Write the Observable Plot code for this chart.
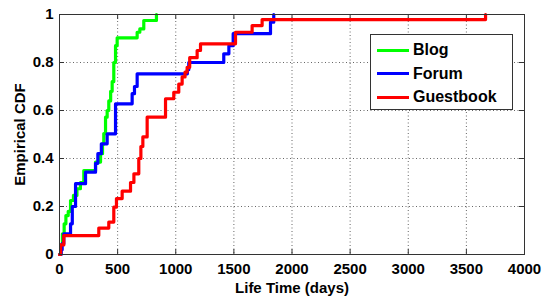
<!DOCTYPE html>
<html>
<head>
<meta charset="utf-8">
<script src="https://cdn.jsdelivr.net/npm/d3@7"></script>
<script src="https://cdn.jsdelivr.net/npm/@observablehq/plot@0.6"></script>
<style>
  html, body { margin: 0; padding: 0; background: #fff; }
  #wrap { position: relative; width: 552px; height: 296px; }
  #legend { position: absolute; left: 370px; top: 34px; width: 143px; height: 76px;
    border: 1px solid #333; background: #fff; box-sizing: border-box;
    font-family: "Liberation Sans", Arial, sans-serif; font-weight: bold; font-size: 16px; }
  .row { position: absolute; left: 6px; height: 20px; display: flex; align-items: center; }
  .sw { width: 32px; height: 3px; margin-right: 4px; }
</style>
</head>
<body>
<div id="wrap"></div>
<script>
// Series names and colours
const seriesNames = ["Blog", "Forum", "Guestbook"];
const seriesColors = ["#00ff00", "#0000ff", "#ff0000"];

// Empirical CDF step points: [life time (days), CDF]
const blog = [
  [0,0],[10,0.04],[25,0.086],[40,0.128],[55,0.162],[75,0.18],[95,0.225],[120,0.246],
  [150,0.274],[180,0.30],[209,0.35],[310,0.385],[353,0.42],[370,0.46],[381,0.504],
  [396,0.572],[410,0.60],[424,0.64],[440,0.68],[453,0.72],[467,0.80],[482,0.87],
  [496,0.903],[668,0.926],[691,0.94],[725,0.975],[834,1.0]
];
const forum = [
  [0,0],[15,0.02],[23,0.045],[37,0.086],[95,0.128],[110,0.2],[138,0.295],[224,0.343],
  [310,0.38],[330,0.42],[360,0.461],[410,0.503],[482,0.628],[625,0.67],[645,0.70],
  [668,0.753],[1100,0.77],[1112,0.80],[1413,0.836],[1457,0.87],[1494,0.92],
  [1815,0.968],[1843,1.0]
];
const guestbook = [
  [0,0],[10,0.04],[37,0.079],[338,0.11],[424,0.135],[467,0.197],[490,0.233],[539,0.264],
  [611,0.30],[640,0.336],[682,0.40],[700,0.45],[717,0.49],[754,0.572],[912,0.649],
  [983,0.676],[1026,0.71],[1055,0.74],[1080,0.76],[1098,0.78],[1120,0.82],[1184,0.85],
  [1213,0.878],[1514,0.926],[1657,0.954],[1743,0.979],[3665,1.0]
];

const xTicks = [0,500,1000,1500,2000,2500,3000,3500,4000];
const yTicks = [0,0.2,0.4,0.6,0.8,1];
const xLabel = "Life Time (days)";
const yLabel = "Empirical CDF";

const allSeries = [blog, forum, guestbook];
const rows = allSeries.flatMap((s, i) => s.map(([x, y]) => ({x, y, name: seriesNames[i]})));

const W = 552, H = 296, mL = 59, mR = 28, mT = 14, mB = 42;
const fw = W - mL - mR, fh = H - mT - mB;
const tk = 5;

const plot = Plot.plot({
  width: W, height: H,
  marginLeft: mL, marginRight: mR, marginTop: mT, marginBottom: mB,
  style: {fontFamily: "'Liberation Sans', Arial, sans-serif", fontWeight: "bold", fontSize: "15px", color: "#000", background: "#fff"},
  x: {domain: [0, 4000]},
  y: {domain: [0, 1]},
  color: {domain: seriesNames, range: seriesColors},
  marks: [
    Plot.gridX(xTicks.slice(1, -1), {stroke: "#666", strokeOpacity: 1, strokeDasharray: "1,2.5", strokeWidth: 1}),
    Plot.gridY(yTicks.slice(1, -1), {stroke: "#666", strokeOpacity: 1, strokeDasharray: "1,2.5", strokeWidth: 1}),
    Plot.tickX(xTicks, {x: d => d, insetTop: fh - tk, stroke: "#333"}),
    Plot.tickX(xTicks, {x: d => d, insetBottom: fh - tk, stroke: "#333"}),
    Plot.tickY(yTicks, {y: d => d, insetRight: fw - tk, stroke: "#333"}),
    Plot.tickY(yTicks, {y: d => d, insetLeft: fw - tk, stroke: "#333"}),
    Plot.line(rows, {x: "x", y: "y", z: "name", stroke: "name", curve: "step-after", strokeWidth: 3.2}),
    Plot.frame({stroke: "#333"}),
    Plot.axisX({ticks: xTicks, tickFormat: d => String(d), tickSize: 0, tickPadding: 9,
      label: xLabel, labelAnchor: "center", labelOffset: 38, labelArrow: "none", fill: "#000"}),
    Plot.axisY({ticks: yTicks, tickFormat: d => String(d), tickSize: 0, tickPadding: 6,
      label: yLabel, labelAnchor: "center", labelOffset: 45, labelArrow: "none", fill: "#000"})
  ]
});
const wrap = document.getElementById("wrap");
wrap.appendChild(plot);

const legend = document.createElement("div");
legend.id = "legend";
seriesNames.forEach((n, i) => {
  const r = document.createElement("div");
  r.className = "row";
  r.style.top = (5 + i * 23.5) + "px";
  const sw = document.createElement("div");
  sw.className = "sw";
  sw.style.background = seriesColors[i];
  const t = document.createElement("span");
  t.textContent = n;
  r.appendChild(sw); r.appendChild(t);
  legend.appendChild(r);
});
wrap.appendChild(legend);
</script>
</body>
</html>
